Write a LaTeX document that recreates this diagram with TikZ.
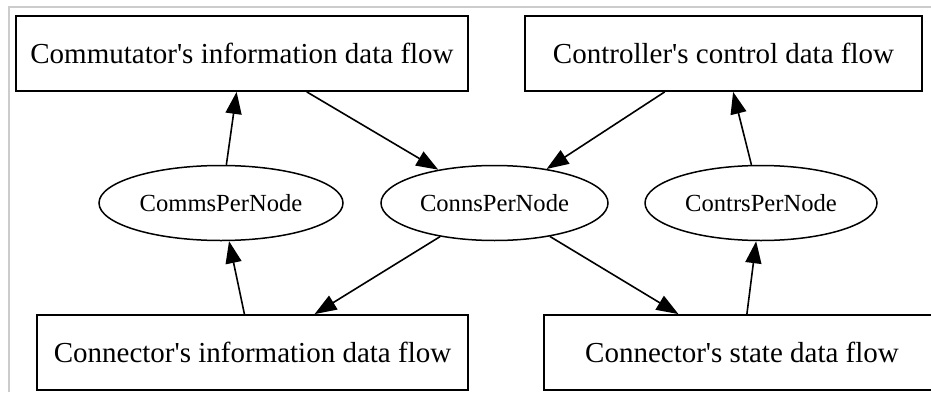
\documentclass[tikz,border=0pt]{standalone}
\usepackage{fontspec}
\setmainfont{Liberation Serif}[Ligatures = TeXOff]
\usetikzlibrary{shapes.geometric, arrows.meta, positioning}
\definecolor{cornice}{gray}{0.80}
\def\cornice{(9,0) -- (9,385) -- (931,385)}

\begin{document}
\begin{tikzpicture}[x = 0.5pt, y = 0.5pt,
    flusso/.style = {draw, rectangle, line width = 0.9pt, inner sep = 0pt,
        minimum height = 37.5pt, font = \fontsize{14.5}{17}\selectfont},
    pernodo/.style = {draw, ellipse, line width = 0.75pt, inner sep = 0pt,
        minimum height = 37.5pt, font = \fontsize{12.3}{15}\selectfont},
    freccia/.style = {line width = 0.8pt, -{Triangle[length = 11pt, width = 8pt]}}]
    % Cornice della pagina
    \useasboundingbox (0,0) rectangle (931,392);
    \clip (0,0) rectangle (931,392);
    \draw[cornice, line width = 0.8pt] \cornice;
    % Flussi in alto
    \node[flusso, minimum width = 226pt] (commutatore) at (242,338.5)
        {Commutator's information data flow};
    \node[flusso, minimum width = 198.5pt] (controllore) at (723.5,338.5)
        {Controller's control data flow};
    % Nodi intermedi
    \node[pernodo, minimum width = 122pt] (comms) at (221,189) {CommsPerNode};
    \node[pernodo, minimum width = 113.5pt] (conns) at (494.5,189) {ConnsPerNode};
    \node[pernodo, minimum width = 116pt] (contrs) at (761,189) {ContrsPerNode};
    % Flussi in basso
    \node[flusso, minimum width = 215.5pt] (info) at (252.5,39.5)
        {Connector's information data flow};
    \node[flusso, minimum width = 198pt] (stato) at (742,39.5)
        {Connector's state data flow};
    % Frecce
    \draw[freccia] (comms) -- (commutatore);
    \draw[freccia] (commutatore) -- (conns);
    \draw[freccia] (controllore) -- (conns);
    \draw[freccia] (contrs) -- (controllore);
    \draw[freccia] (info) -- (comms);
    \draw[freccia] (conns) -- (info);
    \draw[freccia] (conns) -- (stato);
    \draw[freccia] (stato) -- (contrs);
\end{tikzpicture}
\end{document}
